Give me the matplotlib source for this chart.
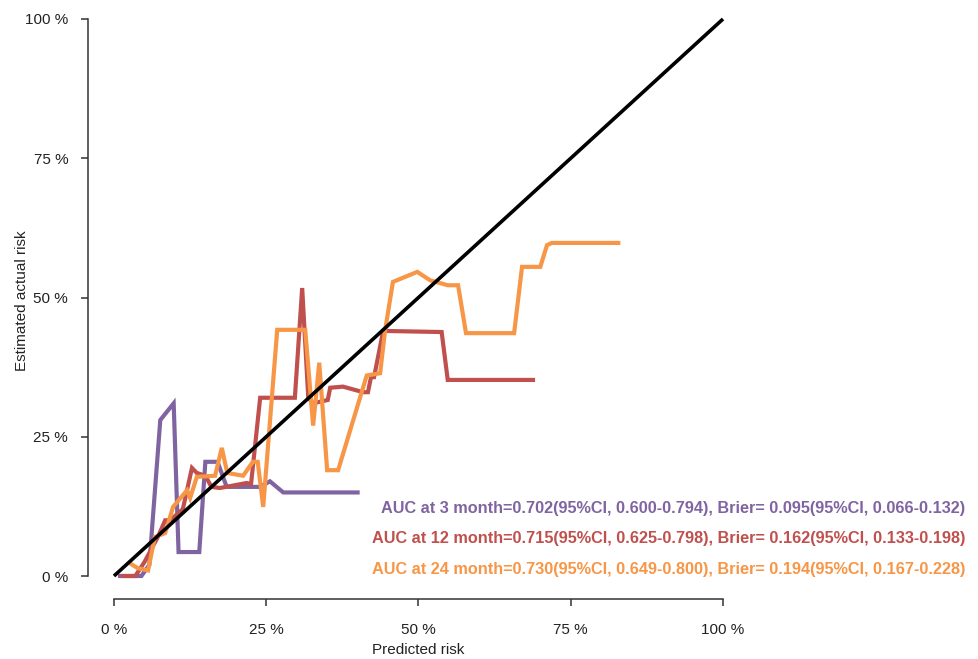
import matplotlib
matplotlib.use("Agg")
import matplotlib.pyplot as plt
from matplotlib.ticker import FixedLocator

plt.rcParams["font.family"] = ["Liberation Sans", "DejaVu Sans"]

# --- data (in %) ---
x_3m = [1, 4.5, 5.8, 7.6, 9.8, 10.6, 14, 15, 17, 18.5, 24, 25.6, 27.8, 40]
y_3m = [0, 0, 2, 28, 31, 4.3, 4.3, 20.5, 20.5, 16, 16, 17, 15, 15]

x_12m = [1.5, 3.5, 5, 7.2, 8.4, 9.2, 11.3, 12.8, 13.6, 15, 16, 17.4, 21.8, 22.5,
         24, 29.7, 30.9, 31.9, 32.7, 35.1, 35.5, 37.6, 40.9, 41.7, 42.2, 42.7,
         44.2, 53.8, 54.8, 68.8]
y_12m = [0, 0, 2.5, 7, 10, 10, 12, 19.4, 18.5, 18, 16, 15.8, 16.7, 16.5,
         32, 32, 51.7, 32, 31, 31.6, 33.8, 34, 33, 33, 35.7, 35.7,
         44, 43.8, 35.2, 35.2]

x_24m = [2.6, 3.9, 5.6, 6.7, 8.4, 9.7, 12, 12.5, 13.6, 16.6, 17.7, 18.6, 21.2,
         22.8, 23.6, 24.5, 26.8, 31.4, 32.7, 33.7, 35, 36.8, 41.5, 43.7, 44.5,
         45.8, 49.8, 51.9, 54.8, 56.5, 57.8, 65.7, 67, 70, 71.1, 71.9, 82.8]
y_24m = [2.3, 1.4, 1, 7, 7.7, 12.4, 15.4, 14, 17.8, 18, 23, 18.5, 18,
         20.5, 20.5, 12.4, 44.2, 44.2, 27, 38.3, 19, 19, 36, 36.4, 44,
         52.8, 54.6, 53.1, 52.2, 52.2, 43.6, 43.6, 55.5, 55.5, 59.4, 59.8, 59.8]

labels = [
    "AUC at 3 month=0.702(95%CI, 0.600-0.794), Brier= 0.095(95%CI, 0.066-0.132)",
    "AUC at 12 month=0.715(95%CI, 0.625-0.798), Brier= 0.162(95%CI, 0.133-0.198)",
    "AUC at 24 month=0.730(95%CI, 0.649-0.800), Brier= 0.194(95%CI, 0.167-0.228)",
]
colors = ["#8064A2", "#C0504D", "#F79646"]
ticks = [0, 25, 50, 75, 100]
tick_labels = ["0 %", "25 %", "50 %", "75 %", "100 %"]

fig = plt.figure(figsize=(9.79, 6.59), dpi=100, facecolor="white")
ax = fig.add_axes([114 / 979, 83 / 659, 609 / 979, 557 / 659])

ax.plot([0, 100], [0, 100], color="black", lw=2.6, solid_capstyle="butt",
        zorder=5, clip_on=False)
for xs, ys, c in zip([x_3m, x_12m, x_24m], [y_3m, y_12m, y_24m], colors):
    ax.plot(xs, ys, color=c, lw=3.0, solid_joinstyle="miter", zorder=4,
            clip_on=False)

ax.set_xlim(0, 100)
ax.set_ylim(0, 100)

for s in ["top", "right"]:
    ax.spines[s].set_visible(False)
ax.spines["left"].set_position(("outward", 19))
ax.spines["bottom"].set_position(("outward", 16.5))
ax.spines["left"].set_bounds(0, 100)
ax.spines["bottom"].set_bounds(0, 100)
for s in ["left", "bottom"]:
    ax.spines[s].set_color("#333333")
    ax.spines[s].set_linewidth(1.1)

ax.xaxis.set_major_locator(FixedLocator(ticks))
ax.yaxis.set_major_locator(FixedLocator(ticks))
ax.set_xticklabels(tick_labels)
ax.set_yticklabels(tick_labels)
ax.tick_params(direction="out", length=5, width=1.1, color="#333333",
               labelsize=11, labelcolor="#222222")
ax.tick_params(axis="x", pad=12)
ax.tick_params(axis="y", pad=9)

ax.set_xlabel("Predicted risk", fontsize=11, color="#222222")
ax.set_ylabel("Estimated actual risk", fontsize=11, color="#222222")
ax.xaxis.set_label_coords(0.499, -0.121)
ax.yaxis.set_label_coords(-0.139, 0.495)

for i, (lab, c) in enumerate(zip(labels, colors)):
    fig.text(0.986, 0.229 - i * 0.0465, lab, color=c, fontsize=11.7,
             fontweight="bold", ha="right", va="center")

fig.savefig("out.png", dpi=100, facecolor="white")
